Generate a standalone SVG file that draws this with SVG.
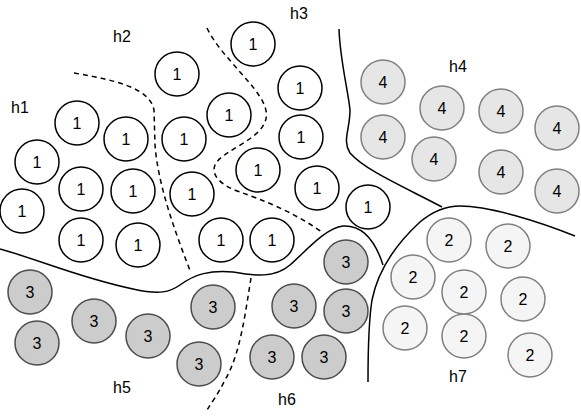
<svg xmlns="http://www.w3.org/2000/svg" width="581" height="418" viewBox="0 0 581 418">
<style>
.n circle{stroke-width:1.5}
.c1 circle{fill:#ffffff;stroke:#000000}
.c3 circle{fill:#cccccc;stroke:#4d4d4d}
.c4 circle{fill:#e6e6e6;stroke:#808080}
.c2 circle{fill:#f5f5f5;stroke:#808080}
text{font-family:"Liberation Sans",Arial,sans-serif;font-size:16px;fill:#000}
.n text{text-anchor:middle}
.b{fill:none;stroke:#000;stroke-width:1.5}
.d{stroke-dasharray:5 4}
</style>
<rect width="581" height="418" fill="#ffffff"/>
<g id="connectors">
<path class="b d" d="M74,73 C115,80 150,88 154,110 L155,145 C158,185 175,232 191,273"/>
<path class="b d" d="M207,28 C215,45 230,60 240,72 C262,96 270,110 265,122 C258,140 225,150 216,163 C209,175 222,186 240,192 C262,200 290,210 322,232"/>
<path class="b d" d="M251,278 C245,315 240,355 225,380 C218,394 212,402 207,410"/>
<path class="b" d="M0,249 C40,260 80,278 133,289 C160,295 170,292 180,285 C195,274 210,270 233,272 C255,276 275,278 290,265 C305,252 325,228 343,226 C362,225 375,240 383,265"/>
<path class="b" d="M339,29 C340,60 348,90 350,110 C350,130 342,140 350,153 C365,170 400,185 442,207"/>
<path class="b" d="M575,236 C540,222 490,206 460,206 C445,206 432,212 420,222 C395,245 378,270 372,300 C368,325 368,355 368,382"/>
</g>
<g id="n1" class="n c1"><circle cx="253" cy="44" r="22"/><text x="253" y="50">1</text></g>
<g id="n2" class="n c1"><circle cx="177" cy="74" r="22"/><text x="177" y="80">1</text></g>
<g id="n3" class="n c1"><circle cx="300" cy="88" r="22"/><text x="300" y="94">1</text></g>
<g id="n4" class="n c1"><circle cx="77" cy="123" r="22"/><text x="77" y="129">1</text></g>
<g id="n5" class="n c1"><circle cx="126" cy="139" r="22"/><text x="126" y="145">1</text></g>
<g id="n6" class="n c1"><circle cx="184" cy="139" r="22"/><text x="184" y="145">1</text></g>
<g id="n7" class="n c1"><circle cx="229" cy="115" r="22"/><text x="229" y="121">1</text></g>
<g id="n8" class="n c1"><circle cx="301" cy="137" r="22"/><text x="301" y="143">1</text></g>
<g id="n9" class="n c1"><circle cx="37" cy="162" r="22"/><text x="37" y="168">1</text></g>
<g id="n10" class="n c1"><circle cx="258" cy="170" r="22"/><text x="258" y="176">1</text></g>
<g id="n11" class="n c1"><circle cx="81" cy="189" r="22"/><text x="81" y="195">1</text></g>
<g id="n12" class="n c1"><circle cx="133" cy="191" r="22"/><text x="133" y="197">1</text></g>
<g id="n13" class="n c1"><circle cx="192" cy="194" r="22"/><text x="192" y="200">1</text></g>
<g id="n14" class="n c1"><circle cx="317" cy="188" r="22"/><text x="317" y="194">1</text></g>
<g id="n15" class="n c1"><circle cx="368" cy="207" r="22"/><text x="368" y="213">1</text></g>
<g id="n16" class="n c1"><circle cx="22" cy="211" r="22"/><text x="22" y="217">1</text></g>
<g id="n17" class="n c1"><circle cx="81" cy="240" r="22"/><text x="81" y="246">1</text></g>
<g id="n18" class="n c1"><circle cx="138" cy="245" r="22"/><text x="138" y="251">1</text></g>
<g id="n19" class="n c1"><circle cx="221" cy="240" r="22"/><text x="221" y="246">1</text></g>
<g id="n20" class="n c1"><circle cx="272" cy="240" r="22"/><text x="272" y="246">1</text></g>
<g id="n21" class="n c3"><circle cx="30" cy="292" r="22"/><text x="30" y="298">3</text></g>
<g id="n22" class="n c3"><circle cx="37" cy="343" r="22"/><text x="37" y="349">3</text></g>
<g id="n23" class="n c3"><circle cx="94" cy="321" r="22"/><text x="94" y="327">3</text></g>
<g id="n24" class="n c3"><circle cx="148" cy="336" r="22"/><text x="148" y="342">3</text></g>
<g id="n25" class="n c3"><circle cx="213" cy="307" r="22"/><text x="213" y="313">3</text></g>
<g id="n26" class="n c3"><circle cx="199" cy="364" r="22"/><text x="199" y="370">3</text></g>
<g id="n27" class="n c3"><circle cx="346" cy="262" r="22"/><text x="346" y="268">3</text></g>
<g id="n28" class="n c3"><circle cx="294" cy="306" r="22"/><text x="294" y="312">3</text></g>
<g id="n29" class="n c3"><circle cx="346" cy="311" r="22"/><text x="346" y="317">3</text></g>
<g id="n30" class="n c3"><circle cx="272" cy="357" r="22"/><text x="272" y="363">3</text></g>
<g id="n31" class="n c3"><circle cx="324" cy="357" r="22"/><text x="324" y="363">3</text></g>
<g id="n32" class="n c4"><circle cx="383" cy="82" r="22"/><text x="383" y="88">4</text></g>
<g id="n33" class="n c4"><circle cx="383" cy="137" r="22"/><text x="383" y="143">4</text></g>
<g id="n34" class="n c4"><circle cx="442" cy="108" r="22"/><text x="442" y="114">4</text></g>
<g id="n35" class="n c4"><circle cx="434" cy="159" r="22"/><text x="434" y="165">4</text></g>
<g id="n36" class="n c4"><circle cx="501" cy="111" r="22"/><text x="501" y="117">4</text></g>
<g id="n37" class="n c4"><circle cx="501" cy="172" r="22"/><text x="501" y="178">4</text></g>
<g id="n38" class="n c4"><circle cx="557" cy="128" r="22"/><text x="557" y="134">4</text></g>
<g id="n39" class="n c4"><circle cx="557" cy="191" r="22"/><text x="557" y="197">4</text></g>
<g id="n40" class="n c2"><circle cx="449" cy="240" r="22"/><text x="449" y="246">2</text></g>
<g id="n41" class="n c2"><circle cx="508" cy="246" r="22"/><text x="508" y="252">2</text></g>
<g id="n42" class="n c2"><circle cx="413" cy="277" r="22"/><text x="413" y="283">2</text></g>
<g id="n43" class="n c2"><circle cx="464" cy="292" r="22"/><text x="464" y="298">2</text></g>
<g id="n44" class="n c2"><circle cx="523" cy="299" r="22"/><text x="523" y="305">2</text></g>
<g id="n45" class="n c2"><circle cx="405" cy="328" r="22"/><text x="405" y="334">2</text></g>
<g id="n46" class="n c2"><circle cx="464" cy="336" r="22"/><text x="464" y="342">2</text></g>
<g id="n47" class="n c2"><circle cx="530" cy="355" r="22"/><text x="530" y="361">2</text></g>
<g id="labels">
<text x="11" y="113">h1</text>
<text x="113" y="42">h2</text>
<text x="290" y="19">h3</text>
<text x="449" y="72">h4</text>
<text x="113" y="393">h5</text>
<text x="278" y="405">h6</text>
<text x="449" y="382">h7</text>
</g>
</svg>
